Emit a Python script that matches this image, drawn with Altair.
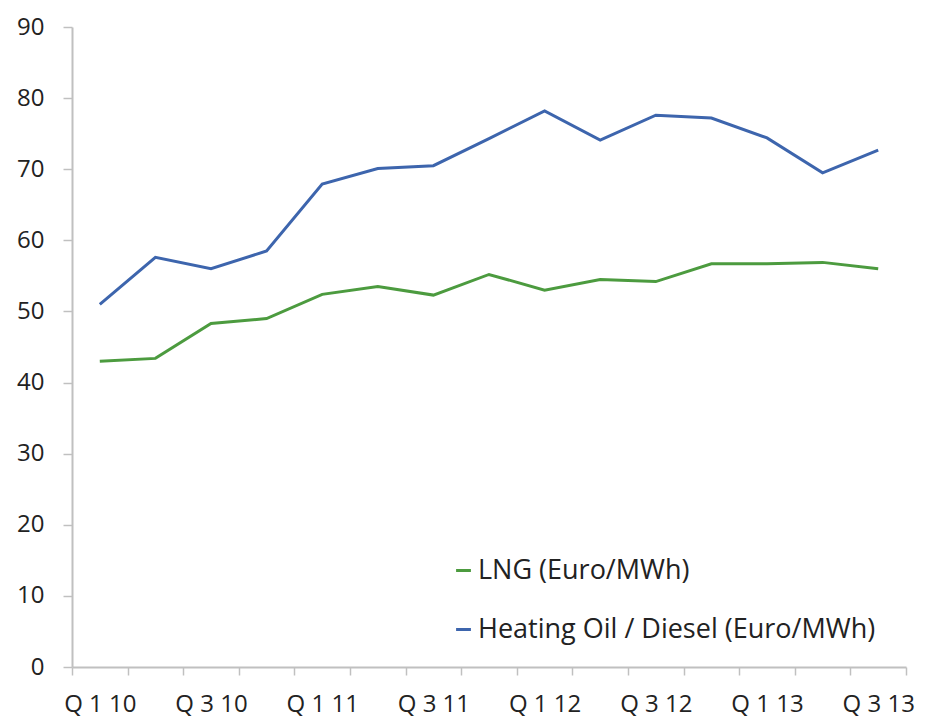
import altair as alt
import pandas as pd

quarters = ["Q 1 10", "Q 2 10", "Q 3 10", "Q 4 10",
            "Q 1 11", "Q 2 11", "Q 3 11", "Q 4 11",
            "Q 1 12", "Q 2 12", "Q 3 12", "Q 4 12",
            "Q 1 13", "Q 2 13", "Q 3 13"]
lng = [43.0, 43.4, 48.3, 49.0, 52.4, 53.5, 52.3, 55.2, 53.0, 54.5, 54.2, 56.7, 56.7, 56.9, 56.0]
oil = [51.0, 57.6, 56.0, 58.5, 67.9, 70.1, 70.5, 74.3, 78.2, 74.1, 77.6, 77.2, 74.4, 69.5, 72.7]
series = ["LNG (Euro/MWh)", "Heating Oil / Diesel (Euro/MWh)"]
colors = ["#4c9b3f", "#3d65ad"]
shown_labels = ["Q 1 10", "Q 3 10", "Q 1 11", "Q 3 11", "Q 1 12", "Q 3 12", "Q 1 13", "Q 3 13"]

rows = []
for q, a, b in zip(quarters, lng, oil):
    rows.append({"quarter": q, "series": series[0], "value": a})
    rows.append({"quarter": q, "series": series[1], "value": b})
df = pd.DataFrame(rows)

FONT = "Open Sans"
FS = 24
label_list = "[" + ",".join("'" + s + "'" for s in shown_labels) + "]"

chart = alt.Chart(df).mark_line(strokeWidth=3).encode(
    x=alt.X("quarter:N", sort=quarters, title=None,
            scale=alt.Scale(type="band", paddingInner=0, paddingOuter=0),
            bandPosition=0.5,
            axis=alt.Axis(tickBand="extent", labelAngle=0, grid=False,
                          domainColor="#c0c0c0", domainWidth=2,
                          tickColor="#c0c0c0", tickWidth=1.5, tickSize=8,
                          labelFont=FONT, labelFontSize=FS, labelColor="#222",
                          labelPadding=17, labelOverlap=False,
                          labelExpr="indexof(" + label_list + ", datum.value) >= 0 ? datum.value : ''")),
    y=alt.Y("value:Q", title=None,
            scale=alt.Scale(domain=[0, 90], nice=False),
            axis=alt.Axis(values=list(range(0, 91, 10)), grid=False,
                          domainColor="#c0c0c0", domainWidth=2,
                          tickColor="#c0c0c0", tickWidth=1.5, tickSize=9,
                          labelFont=FONT, labelFontSize=FS, labelColor="#222",
                          labelPadding=19)),
    color=alt.Color("series:N", sort=series,
                    scale=alt.Scale(domain=series, range=colors),
                    legend=alt.Legend(title=None, orient="none", legendX=378, legendY=530,
                                      symbolType="stroke", symbolSize=220, symbolStrokeWidth=3,
                                      labelFont=FONT, labelFontSize=27, labelColor="#222",
                                      labelLimit=0, labelOffset=1, rowPadding=31)),
).properties(
    width=834, height=640,
    autosize=alt.AutoSizeParams(type="none"),
    padding={"left": 64, "top": 19, "right": 10, "bottom": 52},
).configure_view(stroke=None)

chart.save("out.html", embed_options={"renderer": "svg", "actions": False})
